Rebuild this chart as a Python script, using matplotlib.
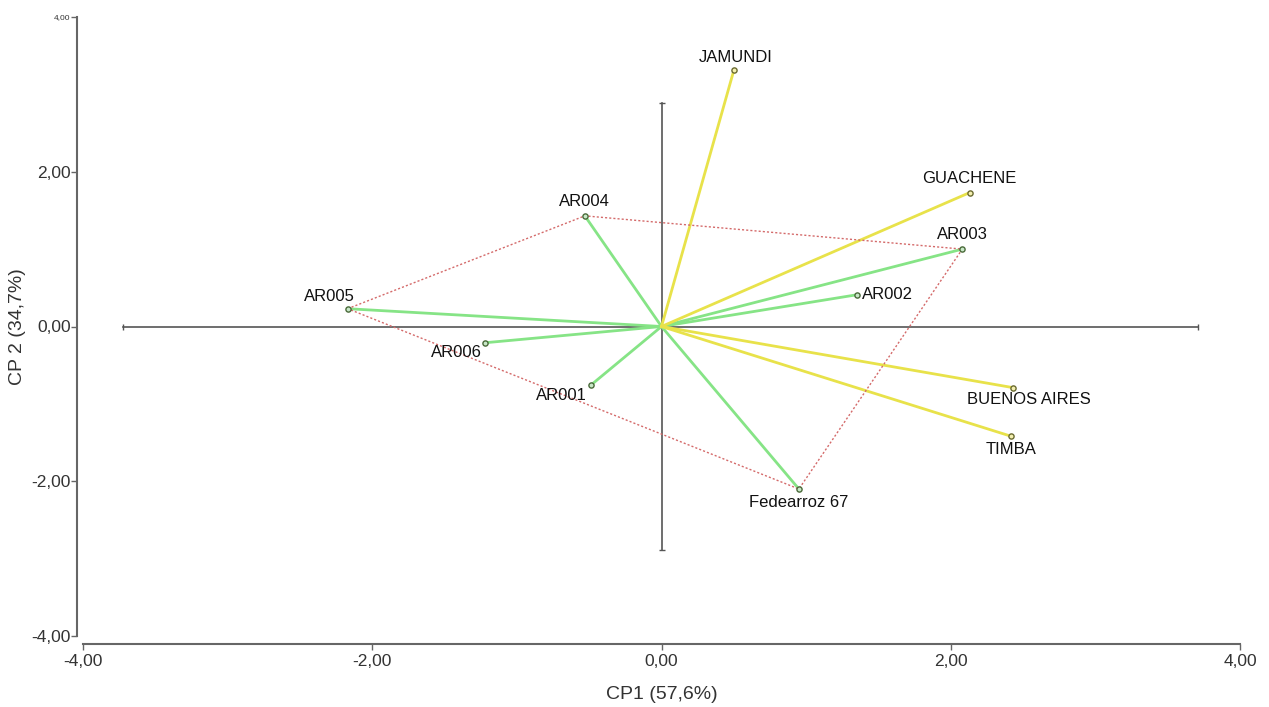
import numpy as np
import matplotlib.pyplot as plt

# -----------------------------
# Data (biplot scores)
# -----------------------------
genotypes = ['AR001', 'AR002', 'AR003', 'AR004', 'AR005', 'AR006', 'Fedearroz 67']
gen_cp1 = [-0.49, 1.35, 2.08, -0.53, -2.17, -1.22, 0.95]
gen_cp2 = [-0.76, 0.41, 1.00, 1.43, 0.23, -0.21, -2.10]

environments = ['JAMUNDI', 'GUACHENE', 'BUENOS AIRES', 'TIMBA']
env_cp1 = [0.50, 2.13, 2.43, 2.42]
env_cp2 = [3.31, 1.73, -0.79, -1.42]

# polygon around the outer genotypes
hull_order = ['AR005', 'AR004', 'AR003', 'Fedearroz 67', 'AR005']

# label offsets in pixels (dx, dy, ha, va)
gen_offsets = {
    'AR001': (-4, -10, 'right', 'center'),
    'AR002': (5, 0, 'left', 'center'),
    'AR003': (0, 7, 'center', 'bottom'),
    'AR004': (0, 7, 'center', 'bottom'),
    'AR005': (-18, 5, 'center', 'bottom'),
    'AR006': (-3, -10, 'right', 'center'),
    'Fedearroz 67': (0, -6, 'center', 'top'),
}
env_offsets = {
    'JAMUNDI': (2, 5, 'center', 'bottom'),
    'GUACHENE': (0, 7, 'center', 'bottom'),
    'BUENOS AIRES': (16, -4, 'center', 'top'),
    'TIMBA': (0, -6, 'center', 'top'),
}

plt.rcParams['font.family'] = ['Liberation Sans', 'DejaVu Sans']

# -----------------------------
# Figure setup
# -----------------------------
fig = plt.figure(figsize=(12.69, 7.07), dpi=100)
ax = fig.add_axes([83 / 1269, 71 / 707, 1157 / 1269, 619 / 707])
ax.set_xlim(-4, 4)
ax.set_ylim(-4, 4)

# inner cross axes with end caps
ax.plot([-3.72, 3.71], [0, 0], color='#555555', lw=1.2, zorder=1)
ax.plot([-3.72, 3.71], [0, 0], ls='none', marker='|', ms=5, color='#555555', zorder=1)
ax.plot([0, 0], [-2.89, 2.89], color='#555555', lw=1.2, zorder=1)
ax.plot([0, 0], [-2.89, 2.89], ls='none', marker='_', ms=5, color='#555555', zorder=1)

# genotype vectors
for x, y in zip(gen_cp1, gen_cp2):
    ax.plot([0, x], [0, y], color='#86e486', lw=2, zorder=2)

# environment vectors
for x, y in zip(env_cp1, env_cp2):
    ax.plot([0, x], [0, y], color='#e8e24a', lw=2, zorder=3)

# hull polygon
idx = [genotypes.index(g) for g in hull_order]
ax.plot([gen_cp1[i] for i in idx], [gen_cp2[i] for i in idx],
        color='#d46a6a', lw=1, ls=(0, (1.5, 1.5)), zorder=4)

# points
ax.scatter(gen_cp1, gen_cp2, s=14, facecolor='#c8e8c8', edgecolor='#4a6a3a',
           linewidth=1, zorder=5)
ax.scatter(env_cp1, env_cp2, s=14, facecolor='#f4f0b0', edgecolor='#6a6a30',
           linewidth=1, zorder=5)

# labels
for name, x, y in zip(genotypes, gen_cp1, gen_cp2):
    dx, dy, ha, va = gen_offsets[name]
    ax.annotate(name, (x, y), xytext=(dx, dy), textcoords='offset pixels',
                ha=ha, va=va, fontsize=12, color='#111111', zorder=6)
for name, x, y in zip(environments, env_cp1, env_cp2):
    dx, dy, ha, va = env_offsets[name]
    ax.annotate(name, (x, y), xytext=(dx, dy), textcoords='offset pixels',
                ha=ha, va=va, fontsize=12, color='#111111', zorder=6)

# -----------------------------
# Axes style
# -----------------------------
ax.spines['top'].set_visible(False)
ax.spines['right'].set_visible(False)
ax.spines['left'].set_position(('outward', 4))
ax.spines['bottom'].set_position(('outward', 6))
for s in ['left', 'bottom']:
    ax.spines[s].set_color('#666666')
    ax.spines[s].set_linewidth(1.5)

ticks = [-4, -2, 0, 2, 4]
ax.set_xticks(ticks)
ax.set_yticks(ticks)
ax.set_xticklabels([f'{t:.2f}'.replace('.', ',') for t in ticks])
ax.set_yticklabels([f'{t:.2f}'.replace('.', ',') for t in ticks])
ax.tick_params(length=4, width=1, colors='#666666', labelcolor='#333333',
               labelsize=12.5)
ax.tick_params(axis='y', pad=1)
ax.tick_params(axis='x', pad=3)
ax.get_yticklabels()[-1].set_fontsize(6)

ax.set_xlabel('CP1 (57,6%)', fontsize=14, color='#333333', labelpad=12)
ax.set_ylabel('CP 2 (34,7%)', fontsize=14, color='#333333', labelpad=4)

fig.savefig('out.png', dpi=100)
